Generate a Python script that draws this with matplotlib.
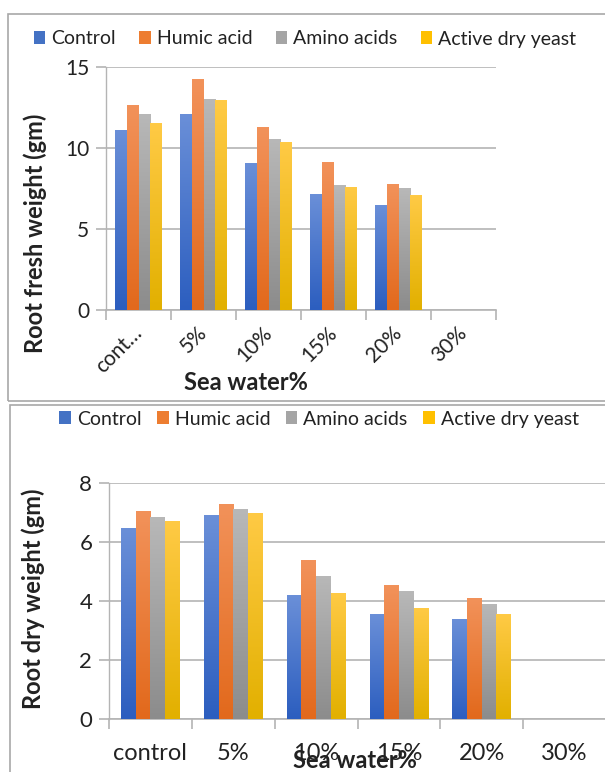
import numpy as np
import matplotlib
matplotlib.use('Agg')
import matplotlib.pyplot as plt
from matplotlib.colors import LinearSegmentedColormap
from matplotlib.patches import Patch, Rectangle

plt.rcParams['font.family'] = ['Lato', 'DejaVu Sans']

# sea water levels and treatments
categories = ['control', '5%', '10%', '15%', '20%', '30%']
top_tick_labels = ['cont…', '5%', '10%', '15%', '20%', '30%']
treatments = ['Control', 'Humic acid', 'Amino acids', 'Active dry yeast']

# root fresh weight (gm); 30% has no data
fresh_control = [11.13, 12.10, 9.07, 7.15, 6.51, 0]
fresh_humic = [12.65, 14.24, 11.29, 9.13, 7.79, 0]
fresh_amino = [12.10, 13.04, 10.57, 7.71, 7.56, 0]
fresh_yeast = [11.54, 12.96, 10.34, 7.62, 7.07, 0]

# root dry weight (gm)
dry_control = [6.47, 6.90, 4.19, 3.55, 3.38, 0]
dry_humic = [7.06, 7.30, 5.38, 4.54, 4.11, 0]
dry_amino = [6.85, 7.12, 4.85, 4.33, 3.90, 0]
dry_yeast = [6.72, 6.99, 4.28, 3.77, 3.55, 0]

base_colors = ['#4472C4', '#ED7D31', '#A5A5A5', '#FFC000']
# (top, bottom) shades for the vertical gradient fill
grad_colors = [('#6a8fd8', '#2c5ebf'), ('#f2925a', '#e2691c'),
               ('#b8b8b8', '#8c8c8c'), ('#ffca45', '#e2b000')]
grid_col = '#b4b4b4'
text_col = '#222222'

W, H = 605, 772
fig = plt.figure(figsize=(W / 100, H / 100), dpi=100)


def fx(px):
    return px / W


def fy(py):
    return 1 - py / H


def gradient_bars(ax, series, bar_w):
    x = np.arange(len(categories))
    offsets = (np.arange(4) - 1.5) * bar_w
    grad = np.linspace(1, 0, 100).reshape(-1, 1)
    for vals, off, (c_top, c_bot) in zip(series, offsets, grad_colors):
        cmap = LinearSegmentedColormap.from_list('g', [c_bot, c_top])
        bars = ax.bar(x + off, vals, bar_w, color='none', edgecolor='none', zorder=3)
        for b in bars:
            if b.get_height() <= 0:
                continue
            x0, y0 = b.get_x(), b.get_y()
            im = ax.imshow(grad, cmap=cmap, aspect='auto', zorder=3,
                           extent=(x0, x0 + b.get_width(), y0, y0 + b.get_height()),
                           interpolation='bilinear')
            im.set_clip_path(b)


def style_axes(ax, ymax, ystep, ytick_fs, xtick_fs):
    ax.set_xlim(-0.5, len(categories) - 0.5)
    ax.set_ylim(0, ymax)
    ax.set_yticks(np.arange(0, ymax + 0.01, ystep))
    ax.yaxis.grid(True, color=grid_col, lw=1.2, zorder=0)
    ax.set_axisbelow(True)
    for s in ['top', 'right']:
        ax.spines[s].set_visible(False)
    ax.spines['left'].set_color(grid_col)
    ax.spines['bottom'].set_color(grid_col)
    ax.spines['left'].set_linewidth(1.0)
    ax.spines['bottom'].set_linewidth(1.2)
    ax.tick_params(axis='y', length=7, color=grid_col, width=1.2,
                   labelsize=ytick_fs, pad=5, labelcolor=text_col)
    ax.set_xticks(np.arange(len(categories)))
    ax.set_xticks(np.arange(-0.5, len(categories)), minor=True)
    ax.tick_params(axis='x', which='major', length=0, labelsize=xtick_fs,
                   labelcolor=text_col)
    ax.tick_params(axis='x', which='minor', length=7, color=grid_col, width=1.2)


def legend(anchor_x, anchor_y, spacing):
    handles = [Patch(facecolor=c, edgecolor='none') for c in base_colors]
    fig.legend(handles, treatments, loc='center', ncol=4,
               bbox_to_anchor=(fx(anchor_x), fy(anchor_y)), frameon=False,
               fontsize=14, handlelength=0.6, handleheight=0.6,
               handletextpad=0.3, columnspacing=spacing, labelcolor=text_col)


# panel frames
fig.patches.append(Rectangle((fx(8), fy(401)), fx(620) - fx(8), fy(14) - fy(401),
                             transform=fig.transFigure, fill=False,
                             edgecolor='#a8a8a8', lw=1.2))
fig.patches.append(Rectangle((fx(10), fy(790)), fx(620) - fx(10), fy(405) - fy(790),
                             transform=fig.transFigure, fill=False,
                             edgecolor='#a8a8a8', lw=1.2))

# top panel: fresh weight
ax1 = fig.add_axes([fx(106), fy(310), fx(496) - fx(106), fy(67) - fy(310)])
gradient_bars(ax1, [fresh_control, fresh_humic, fresh_amino, fresh_yeast], 0.18)
style_axes(ax1, 15, 5, 15, 15)
ax1.set_xticklabels(top_tick_labels, rotation=45, ha='right',
                    rotation_mode='anchor', va='center')
ax1.tick_params(axis='x', which='major', pad=14)
legend(305, 39, 1.2)
fig.text(fx(246), fy(383), 'Sea water%', fontsize=17, fontweight='bold',
         ha='center', va='center', color=text_col)
fig.text(fx(35), fy(233), 'Root fresh weight (gm)', fontsize=17,
         fontweight='bold', rotation=90, ha='center', va='center', color=text_col)

# bottom panel: dry weight
ax2 = fig.add_axes([fx(109), fy(719), fx(606) - fx(109), fy(483) - fy(719)])
gradient_bars(ax2, [dry_control, dry_humic, dry_amino, dry_yeast], 0.177)
style_axes(ax2, 8, 2, 16, 17)
ax2.set_xticklabels(categories)
ax2.tick_params(axis='x', which='major', pad=17)
legend(319, 419, 0.8)
fig.text(fx(355), fy(760), 'Sea water%', fontsize=17, fontweight='bold',
         ha='center', va='center', color=text_col)
fig.text(fx(33), fy(599), 'Root dry weight (gm)', fontsize=17,
         fontweight='bold', rotation=90, ha='center', va='center', color=text_col)

fig.savefig('out.png', dpi=100)
